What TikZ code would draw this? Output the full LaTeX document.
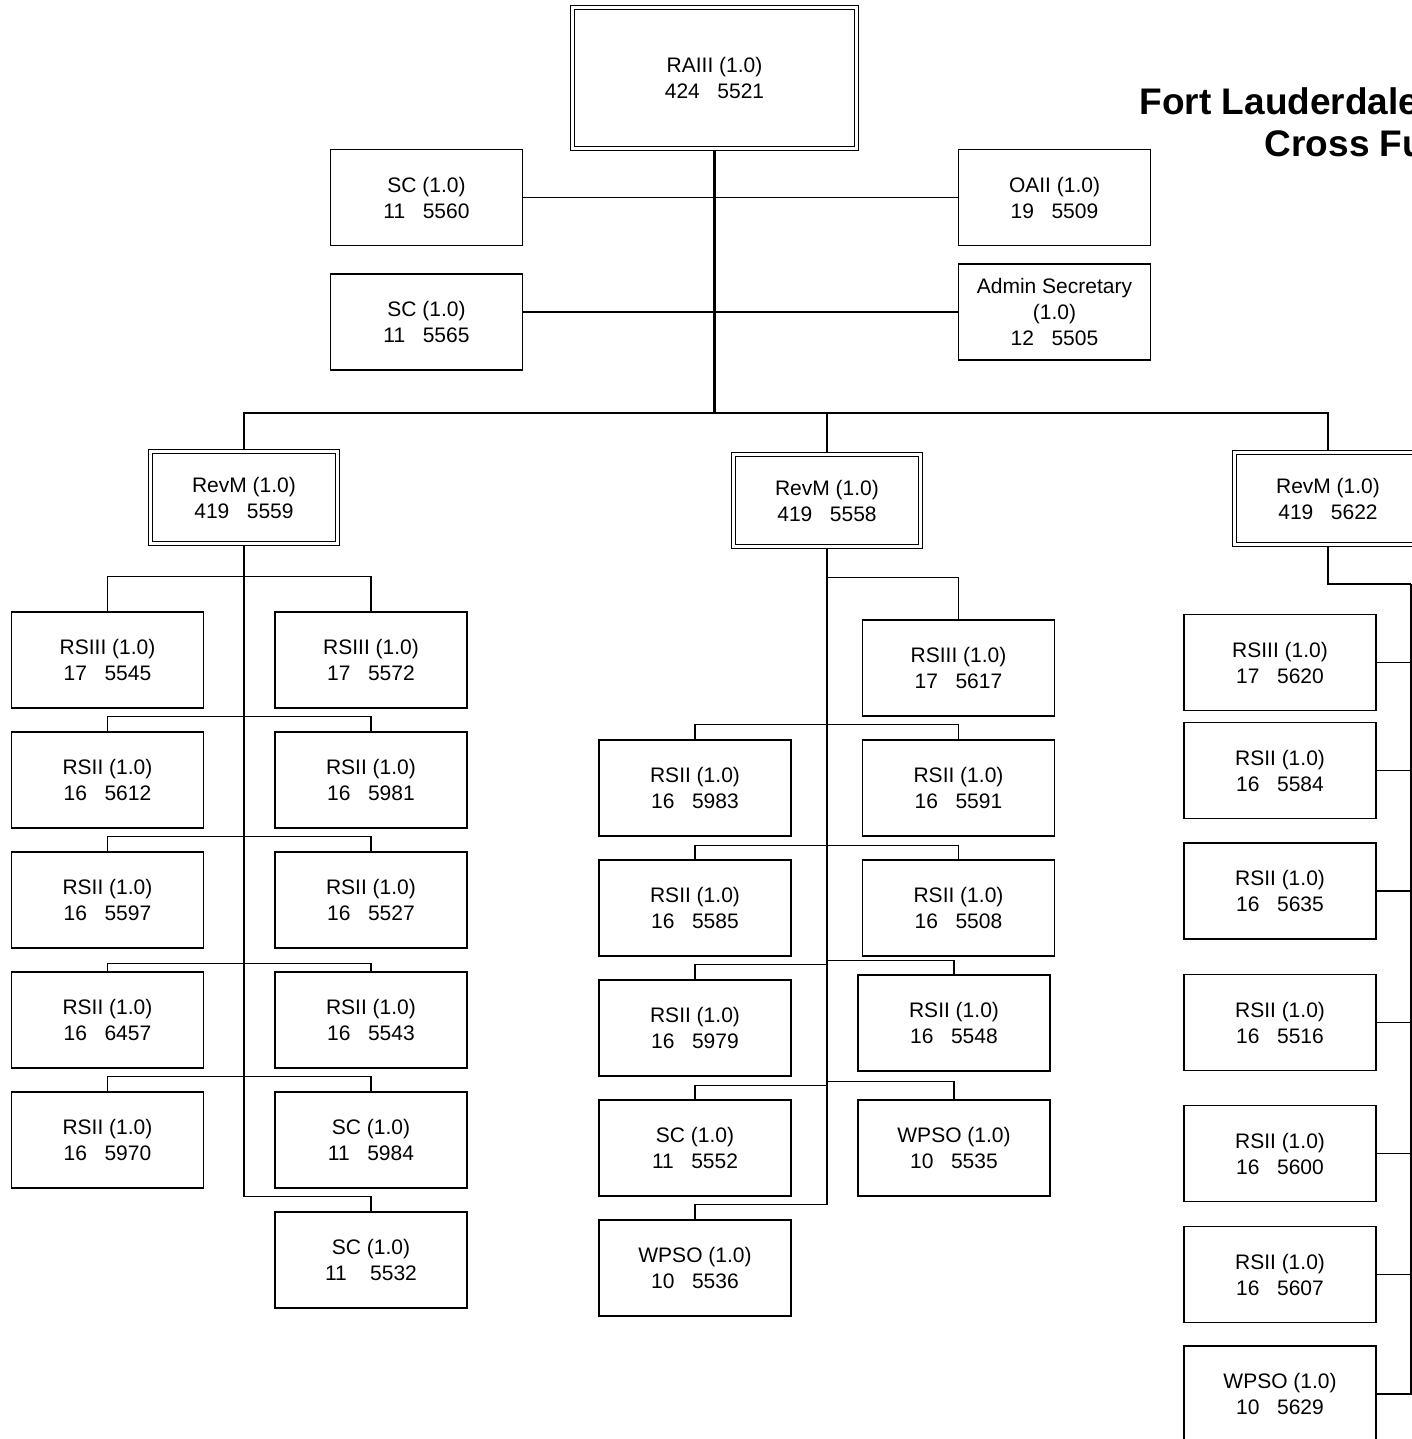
\documentclass[tikz,border=0pt]{standalone}
\usepackage{fontspec}
\setmainfont{Liberation Sans}
\usepackage{tikz}

\begin{document}
\begin{tikzpicture}[x=1pt,y=-1pt,line width=1.4pt]
\tikzstyle{bx}=[draw=black,fill=white,align=center,minimum width=192pt,minimum height=96pt,inner sep=0pt,font=\fontsize{21}{26}\selectfont]
\tikzstyle{dbl}=[bx,double,double distance=2.6pt,outer sep=2.6pt,minimum width=187pt,minimum height=92pt]
\tikzstyle{trunk}=[line width=2.4pt]
\tikzstyle{ttl}=[anchor=base west,inner sep=0pt,font=\fontsize{37}{42}\bfseries\selectfont]
\useasboundingbox (0,0) rectangle (1412,1439);
\clip (0,0) rectangle (1412,1439);

\node[ttl] (ttl1) at (1139,115) {Fort Lauderdale};
\node[ttl] (ttl2) at (1264,157) {Cross Fu};

\node[dbl,minimum width=284pt,minimum height=141pt] (ra) at (714.5,78) {RAIII (1.0)\\424~~~5521};
\node[bx] (sc1) at (426.5,197.5) {SC (1.0)\\11~~~5560};
\node[bx] (oa)  at (1054.5,197.5) {OAII (1.0)\\19~~~5509};
\node[bx] (sc2) at (426.5,322) {SC (1.0)\\11~~~5565};
\node[bx] (adm) at (1054.5,312) {Admin Secretary\\(1.0)\\12~~~5505};

\node[dbl] (revL) at (244,497.5) {RevM (1.0)\\419~~~5559};
\node[dbl] (revM) at (827,500.5) {RevM (1.0)\\419~~~5558};
\node[dbl] (revR) at (1328,498.5) {RevM (1.0)\\419~~~5622};

\node[bx] (l1a) at (107.5,660) {RSIII (1.0)\\17~~~5545};
\node[bx] (l1b) at (371,660)   {RSIII (1.0)\\17~~~5572};
\node[bx] (l2a) at (107.5,780) {RSII (1.0)\\16~~~5612};
\node[bx] (l2b) at (371,780)   {RSII (1.0)\\16~~~5981};
\node[bx] (l3a) at (107.5,900) {RSII (1.0)\\16~~~5597};
\node[bx] (l3b) at (371,900)   {RSII (1.0)\\16~~~5527};
\node[bx] (l4a) at (107.5,1020) {RSII (1.0)\\16~~~6457};
\node[bx] (l4b) at (371,1020)   {RSII (1.0)\\16~~~5543};
\node[bx] (l5a) at (107.5,1140) {RSII (1.0)\\16~~~5970};
\node[bx] (l5b) at (371,1140)   {SC (1.0)\\11~~~5984};
\node[bx] (l6)  at (371,1260)   {SC (1.0)\\11~~~~5532};

\node[bx] (m0)  at (958.5,668) {RSIII (1.0)\\17~~~5617};
\node[bx] (m1a) at (695,788)   {RSII (1.0)\\16~~~5983};
\node[bx] (m1b) at (958.5,788) {RSII (1.0)\\16~~~5591};
\node[bx] (m2a) at (695,908)   {RSII (1.0)\\16~~~5585};
\node[bx] (m2b) at (958.5,908) {RSII (1.0)\\16~~~5508};
\node[bx] (m3a) at (695,1028)  {RSII (1.0)\\16~~~5979};
\node[bx] (m3b) at (954,1023)  {RSII (1.0)\\16~~~5548};
\node[bx] (m4a) at (695,1148)  {SC (1.0)\\11~~~5552};
\node[bx] (m4b) at (954,1148)  {WPSO (1.0)\\10~~~5535};
\node[bx] (m5)  at (695,1268)  {WPSO (1.0)\\10~~~5536};

\node[bx] (r1) at (1280,662.5) {RSIII (1.0)\\17~~~5620};
\node[bx] (r2) at (1280,770.5) {RSII (1.0)\\16~~~5584};
\node[bx] (r3) at (1280,891)   {RSII (1.0)\\16~~~5635};
\node[bx] (r4) at (1280,1022.5) {RSII (1.0)\\16~~~5516};
\node[bx] (r5) at (1280,1153.5) {RSII (1.0)\\16~~~5600};
\node[bx] (r6) at (1280,1274.5) {RSII (1.0)\\16~~~5607};
\node[bx] (r7) at (1280,1394)   {WPSO (1.0)\\10~~~5629};

\coordinate (hub) at (714.5,413);
\coordinate (rail) at (1411,584);

\draw (sc1.east) -- (oa.west);
\draw (adm.west) -- (adm.west -| sc2.east);
\draw (revL.north) |- (hub) -| (revR.north);
\draw (hub) -| (revM.north);
\draw[trunk] (ra.south) -- (hub);

\draw (l1a.north) -- ++(0,-35) -| (l1b.north);
\draw (l2a.north) -- ++(0,-15) -| (l2b.north);
\draw (l3a.north) -- ++(0,-15) -| (l3b.north);
\draw (l4a.north) -- ++(0,-8) -| (l4b.north);
\draw (l5a.north) -- ++(0,-15) -| (l5b.north);
\draw (l6.north) -- ++(0,-15) -| (revL.south);
\draw[trunk] (revL.south) -- ++(0,532);

\draw (m0.north) -- ++(0,-42) -| (revM.south);
\draw (m1a.north) -- ++(0,-15) -| (m1b.north);
\draw (m2a.north) -- ++(0,-14) -| (m2b.north);
\draw (m3a.north) -- ++(0,-15) -| (revM.south);
\draw (m3b.north) -- ++(0,-14) -| (revM.south);
\draw (m4a.north) -- ++(0,-14) -| (revM.south);
\draw (m4b.north) -- ++(0,-18) -| (revM.south);
\draw (m5.north) -- ++(0,-15) -| (revM.south);
\draw[trunk] (revM.south) -- ++(0,537);

\draw (rail) |- (r7.east);
\foreach \n in {1,...,6}
  \draw (r\n.east) -- (rail |- r\n.east);
\draw[trunk] (revR.south) |- (rail);
\end{tikzpicture}
\end{document}
